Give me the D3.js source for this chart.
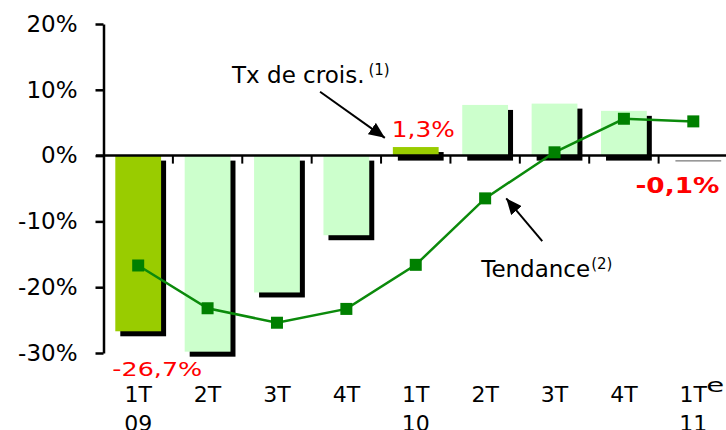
<!DOCTYPE html>
<html>
<head>
<meta charset="utf-8">
<script src="https://cdn.jsdelivr.net/npm/d3@7"></script>
<style>
  body { margin: 0; background: #fff; }
  text { font-family: "DejaVu Sans", Verdana, sans-serif; }
</style>
</head>
<body>
<script>
// quarters (label line 1 / line 2) and series
const categories = ["1T 09", "2T 09", "3T 09", "4T 09", "1T 10", "2T 10", "3T 10", "4T 10", "1T 11"];
const quarterLabels = ["1T", "2T", "3T", "4T", "1T", "2T", "3T", "4T", "1T"];
const yearLabels = ["09", "", "", "", "10", "", "", "", "11"];
const estimateMarks = ["", "", "", "", "", "", "", "", "e"];
const growth = [-26.7, -29.8, -20.8, -12.1, 1.3, 7.7, 7.9, 6.8, -0.1];
const trend = [-16.7, -23.2, -25.4, -23.3, -16.6, -6.5, 0.5, 5.6, 5.2];
const highlighted = ["1T 09", "1T 10"];
const yTicks = [-30, -20, -10, 0, 10, 20];

const width = 726, height = 430;

const svg = d3.select("body").append("svg")
    .attr("width", width)
    .attr("height", height);

var x = d3.scaleBand()
    .domain(categories)
    .range([103.5, 728])
    .paddingInner(0.34)
    .paddingOuter(0.17);

var y = d3.scaleLinear()
    .domain([-30, 20])
    .range([353, 24]);

const bw = x.bandwidth();
const step = x.step();
const y0 = y(0);

// shadows behind the bars
svg.append("g")
    .selectAll("rect")
    .data(growth)
    .enter()
    .append("rect")
    .attr("x", (d, i) => x(categories[i]) + 5)
    .attr("y", d => Math.min(y(d), y0) + 5)
    .attr("width", bw)
    .attr("height", d => Math.abs(y(d) - y0))
    .attr("fill", "#000");

// bars
svg.append("g")
    .selectAll("rect")
    .data(growth)
    .enter()
    .append("rect")
    .attr("x", (d, i) => x(categories[i]))
    .attr("y", d => Math.min(y(d), y0))
    .attr("width", bw)
    .attr("height", d => Math.abs(y(d) - y0))
    .attr("fill", (d, i) => highlighted.includes(categories[i]) ? "#99cc00" : "#ccffcc");

// y axis
var yAxis = d3.axisLeft(y)
    .tickValues(yTicks)
    .tickFormat(d => d + "%")
    .tickSize(8)
    .tickSizeOuter(0)
    .tickPadding(18);

const gy = svg.append("g")
    .attr("transform", "translate(103.5,0)")
    .call(yAxis);
gy.select(".domain").attr("stroke", "#000").attr("stroke-width", 2.5);
gy.selectAll(".tick line").attr("stroke", "#000").attr("stroke-width", 2.5);
gy.selectAll(".tick text")
    .attr("fill", "#000")
    .style("font-size", "23px")
    .style("font-family", "DejaVu Sans");

// zero line with category ticks
svg.append("line")
    .attr("x1", 96).attr("x2", width)
    .attr("y1", y0).attr("y2", y0)
    .attr("stroke", "#000").attr("stroke-width", 2.5);

svg.append("g")
    .selectAll("line")
    .data(categories.slice(0, -1))
    .enter()
    .append("line")
    .attr("x1", d => x(d) + bw / 2 + step / 2)
    .attr("x2", d => x(d) + bw / 2 + step / 2)
    .attr("y1", y0)
    .attr("y2", y0 + 8)
    .attr("stroke", "#000")
    .attr("stroke-width", 2);

// category labels
const xl = svg.append("g");
xl.selectAll("text.q")
    .data(categories)
    .enter()
    .append("text")
    .attr("class", "q")
    .attr("x", d => x(d) + bw / 2)
    .attr("y", 402)
    .attr("text-anchor", "middle")
    .style("font-size", "22px")
    .text((d, i) => quarterLabels[i]);
xl.selectAll("text.yr")
    .data(categories)
    .enter()
    .append("text")
    .attr("class", "yr")
    .attr("x", d => x(d) + bw / 2)
    .attr("y", 431)
    .attr("text-anchor", "middle")
    .style("font-size", "22px")
    .text((d, i) => yearLabels[i]);
xl.selectAll("text.sup")
    .data(categories)
    .enter()
    .append("text")
    .attr("class", "sup")
    .attr("x", d => x(d) + bw / 2 + 13)
    .attr("y", 392)
    .style("font-size", "19px")
    .attr("textLength", (d, i) => estimateMarks[i] ? 18 : null)
    .attr("lengthAdjust", "spacingAndGlyphs")
    .text((d, i) => estimateMarks[i]);

// trend line
var line = d3.line()
    .x((d, i) => x(categories[i]) + bw / 2)
    .y(d => y(d));

svg.append("path")
    .datum(trend)
    .attr("d", line)
    .attr("fill", "none")
    .attr("stroke", "#0b8a0b")
    .attr("stroke-width", 2.5);

svg.append("g")
    .selectAll("rect")
    .data(trend)
    .enter()
    .append("rect")
    .attr("x", (d, i) => x(categories[i]) + bw / 2 - 6)
    .attr("y", d => y(d) - 6)
    .attr("width", 12)
    .attr("height", 12)
    .attr("fill", "#008000");

// value labels
svg.append("text")
    .attr("x", x("1T 09") - 3)
    .attr("y", y(-30) + 23)
    .attr("fill", "#ff0000")
    .style("font-size", "20px")
    .attr("textLength", 90)
    .attr("lengthAdjust", "spacingAndGlyphs")
    .text("-26,7%");

svg.append("text")
    .attr("x", x("1T 10") - 1)
    .attr("y", y(1.3) - 10)
    .attr("fill", "#ff0000")
    .style("font-size", "21px")
    .attr("textLength", 63)
    .attr("lengthAdjust", "spacingAndGlyphs")
    .text("1,3%");

svg.append("text")
    .attr("x", x("1T 11") - 35)
    .attr("y", y0 + 37)
    .attr("fill", "#ff0000")
    .style("font-size", "21px")
    .style("font-weight", "bold")
    .attr("textLength", 84)
    .attr("lengthAdjust", "spacingAndGlyphs")
    .text("-0,1%");

// annotations
svg.append("defs").append("marker")
    .attr("id", "head")
    .attr("markerUnits", "userSpaceOnUse")
    .attr("viewBox", "0 0 16 14")
    .attr("refX", 16).attr("refY", 7)
    .attr("markerWidth", 16).attr("markerHeight", 14)
    .attr("orient", "auto")
    .append("path")
    .attr("d", "M0,0 L16,7 L0,14 Z")
    .attr("fill", "#000");

const t1 = svg.append("text")
    .attr("x", x("3T 09") - 22)
    .attr("y", y(11))
    .style("font-size", "23px")
    .attr("fill", "#000");
t1.append("tspan").text("Tx de crois.");
t1.append("tspan").attr("dx", 4).attr("dy", -8).style("font-size", "15px").text("(1)");

svg.append("line")
    .attr("x1", x("3T 09") + 66).attr("y1", y(9.7))
    .attr("x2", x("1T 10") - 8).attr("y2", y(2.7))
    .attr("stroke", "#000").attr("stroke-width", 2)
    .attr("marker-end", "url(#head)");

const t2 = svg.append("text")
    .attr("x", x("2T 10") + 19)
    .attr("y", y(-18.4))
    .style("font-size", "23px")
    .attr("fill", "#000");
t2.append("tspan").text("Tendance");
t2.append("tspan").attr("dx", 1).attr("dy", -8).style("font-size", "15px").text("(2)");

svg.append("line")
    .attr("x1", x("2T 10") + 80).attr("y1", y(-13))
    .attr("x2", x("2T 10") + 44).attr("y2", y(-6.5))
    .attr("stroke", "#000").attr("stroke-width", 2)
    .attr("marker-end", "url(#head)");
</script>
</body>
</html>
